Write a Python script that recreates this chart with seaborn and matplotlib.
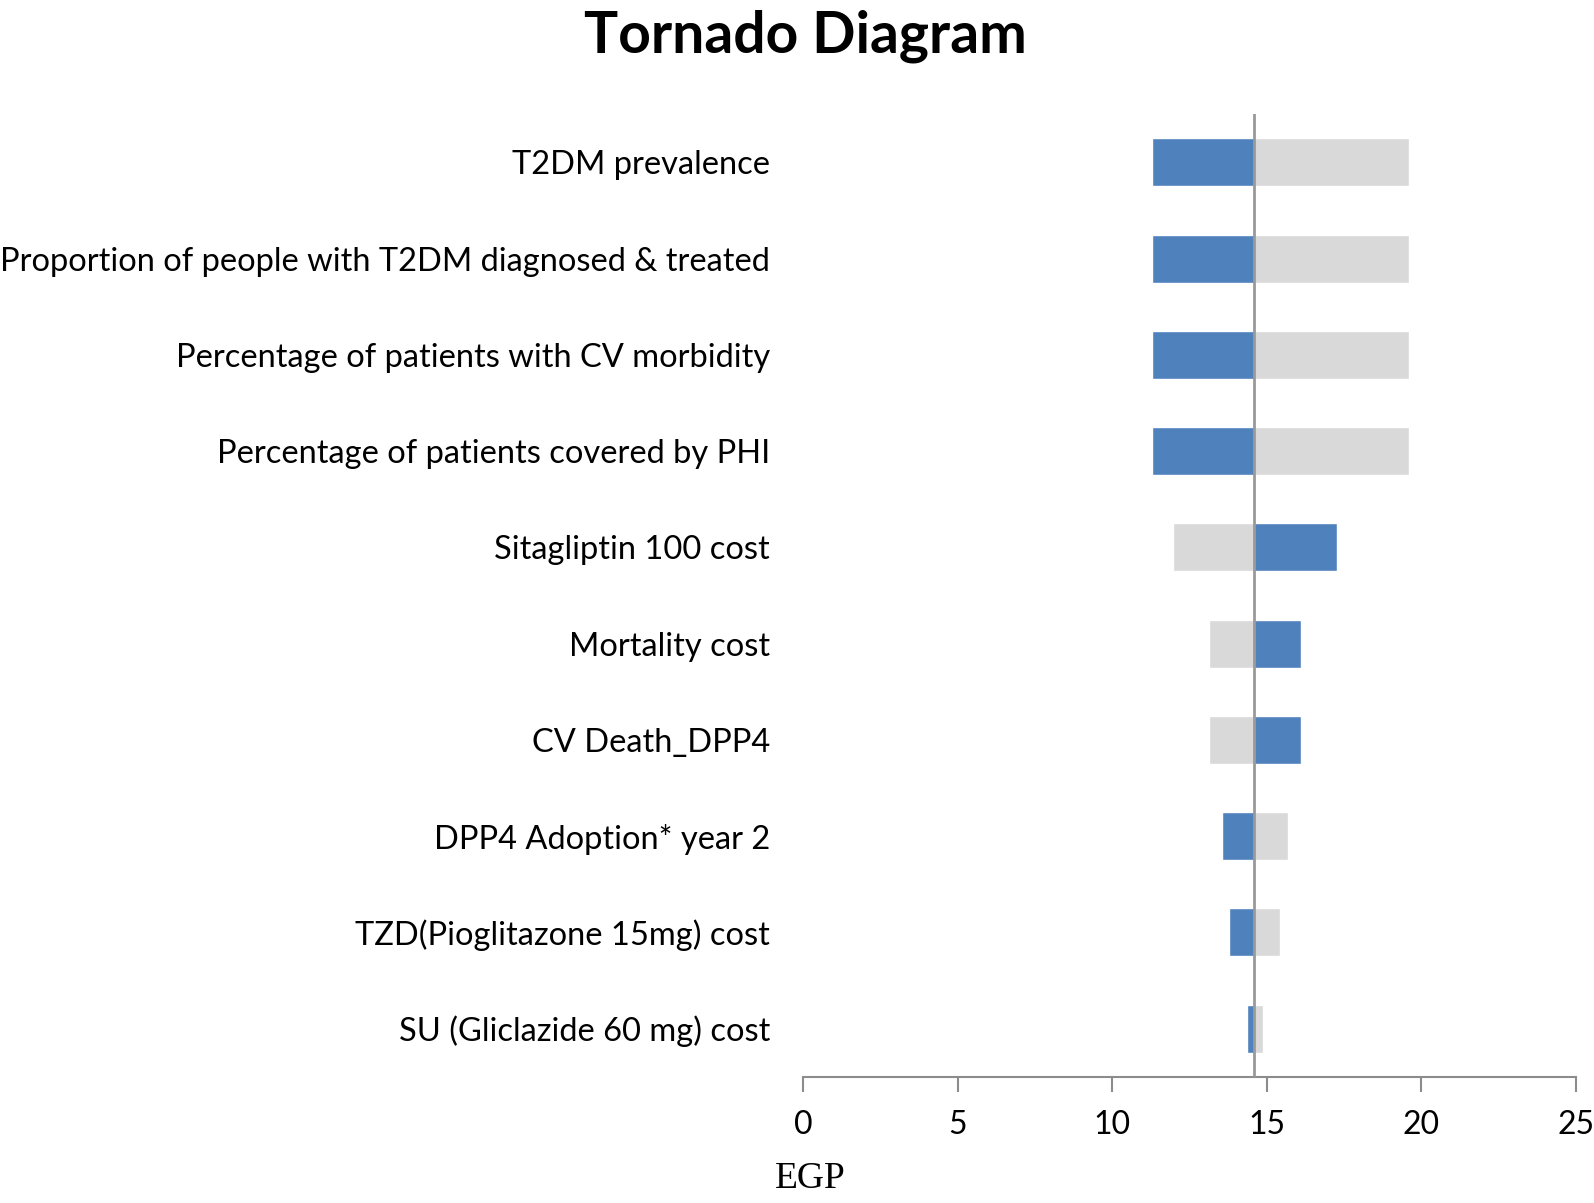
import pandas as pd
import matplotlib.pyplot as plt
import seaborn as sns

# Parameters of the sensitivity analysis (top to bottom)
categories = [
    "T2DM prevalence",
    "Proportion of people with T2DM diagnosed & treated",
    "Percentage of patients with CV morbidity",
    "Percentage of patients covered by PHI",
    "Sitagliptin 100 cost",
    "Mortality cost",
    "CV Death_DPP4",
    "DPP4 Adoption* year 2",
    "TZD(Pioglitazone 15mg) cost",
    "SU (Gliclazide 60 mg) cost",
]
# base case value (EGP)
base_value = 14.6
# value reached by each series
blue_values = [11.28, 11.28, 11.28, 11.28, 17.26, 16.12, 16.12, 13.54, 13.79, 14.35]
gray_values = [19.61, 19.61, 19.61, 19.61, 11.98, 13.12, 13.12, 15.69, 15.44, 14.88]
x_ticks = [0, 5, 10, 15, 20, 25]

blue_color = "#4F81BD"
gray_color = "#D9D9D9"

df = pd.DataFrame({
    "parameter": categories,
    "blue": [v - base_value for v in blue_values],
    "gray": [v - base_value for v in gray_values],
})

sns.set_style("white")
plt.rcParams['font.family'] = ['Lato', 'DejaVu Sans']
plt.rcParams['text.color'] = 'black'

fig, ax = plt.subplots(figsize=(15.94, 12.03), dpi=100)
fig.subplots_adjust(left=0.504, right=0.9885, top=0.905, bottom=0.105)

sns.barplot(data=df, y="parameter", x="gray", color=gray_color, orient="h",
            width=0.5, left=base_value, saturation=1, errorbar=None, ax=ax)
sns.barplot(data=df, y="parameter", x="blue", color=blue_color, orient="h",
            width=0.5, left=base_value, saturation=1, errorbar=None, ax=ax)

ax.axvline(base_value, color="#999999", linewidth=2, zorder=5)

ax.set_xlim(0, 25)
ax.set_ylim(len(categories) - 0.5, -0.5)
ax.set_xticks(x_ticks)
ax.set_xlabel("")
ax.set_ylabel("")

sns.despine(ax=ax, left=True, top=True, right=True)
ax.spines["bottom"].set_color("#8C8C8C")
ax.spines["bottom"].set_linewidth(1.5)
ax.tick_params(axis="x", length=11, width=1.5, color="#8C8C8C", pad=13,
               labelsize=23, labelcolor="black", direction="out", bottom=True)
ax.tick_params(axis="y", length=0, pad=24, labelsize=23.5, labelcolor="black")

fig.text(0.505, 0.97, "Tornado Diagram", ha="center", va="center",
         fontsize=41, fontweight="bold", color="black")
fig.text(0.508, 0.02, "EGP", ha="center", va="center", fontsize=27,
         color="black", family=["Liberation Serif", "DejaVu Serif"])

fig.savefig("out.png", dpi=100)
